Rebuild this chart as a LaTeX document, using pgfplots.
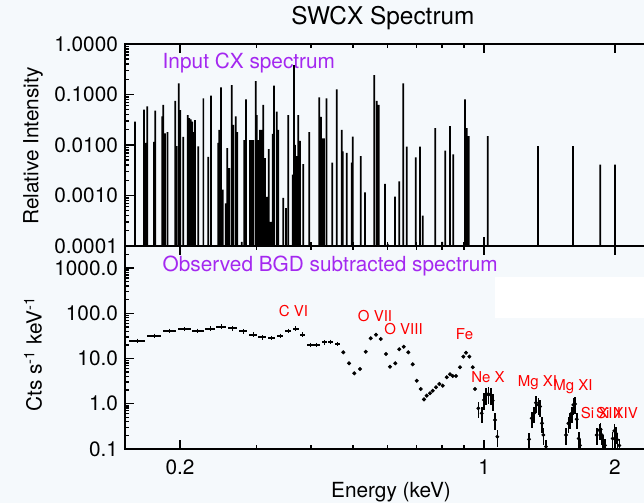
\documentclass[border=0pt]{standalone}
\usepackage{fontspec}
\setmainfont{TeX Gyre Heros}
\usepackage{pgfplots}
\usepackage{pgfplotstable}
\pgfplotsset{compat=1.18}
\definecolor{bgc}{RGB}{245,249,252}
\definecolor{idlpurple}{RGB}{164,40,240}

% input CX line list: energy (keV), relative intensity
\pgfplotstableread{
E v
0.1576 0.029
0.1653 0.050
0.1668 0.011
0.1682 0.058
0.1743 0.0115
0.1755 0.048
0.1821 0.037
0.1831 0.062
0.1847 0.017
0.1872 0.018
0.1951 0.075
0.1963 0.0095
0.1987 0.166
0.2003 0.049
0.2034 0.0145
0.2083 0.039
0.2101 0.034
0.2117 0.032
0.2135 0.029
0.2148 0.018
0.2165 0.031
0.2203 0.0094
0.2263 0.084
0.2323 0.0058
0.2357 0.095
0.2449 0.011
0.2462 0.020
0.2485 0.138
0.2507 0.0013
0.2547 0.0007
0.2569 0.0087
0.2596 0.0035
0.2630 0.154
0.2652 0.025
0.2686 0.037
0.2709 0.018
0.2773 0.00012
0.2811 0.0125
0.2836 0.080
0.2897 0.0125
0.2923 0.0125
0.2948 0.0125
0.2986 0.185
0.3002 0.039
0.3027 0.0125
0.3055 0.020
0.3071 0.020
0.3092 0.020
0.3108 0.062
0.3136 0.0055
0.3165 0.00094
0.3199 0.0083
0.3233 0.0003
0.3267 0.0166
0.3290 0.150
0.3337 0.046
0.3365 0.020
0.3456 0.0009
0.3505 0.00056
0.3548 0.039
0.3632 0.0026
0.3657 0.38
0.3676 0.010
0.3710 0.006
0.3741 0.039
0.3775 0.0120
0.3842 0.0042
0.3966 0.018
0.3995 0.00011
0.4181 0.088
0.4219 0.036
0.4248 0.0135
0.4286 0.0135
0.4343 0.084
0.4479 0.0045
0.4584 0.127
0.4707 0.020
0.4732 0.0075
0.4833 0.0070
0.4963 0.0045
0.4989 0.0146
0.5205 0.006
0.5325 0.00115
0.5594 0.243
0.5665 0.075
0.5726 0.062
0.5920 0.0017
0.6005 0.00011
0.6242 0.00095
0.6385 0.0019
0.6522 0.166
0.6640 0.0093
0.6964 0.0057
0.7125 0.0093
0.7227 0.0004
0.7726 0.0215
0.8017 0.00012
0.8146 0.0077
0.8351 0.0237
0.8498 0.0065
0.9041 0.080
0.9123 0.0215
0.9220 0.015
0.9998 0.00012
1.0196 0.015
1.3306 0.0095
1.6014 0.0095
1.8504 0.0041
2.0000 0.0041
}\cxlines

% low energy bins: centre, rate, half width
\pgfplotstableread{
E y ex
0.15945 24.7 0.0070
0.1746 31.9 0.0064
0.1893 41.1 0.0067
0.2048 44.2 0.0067
0.21995 41.1 0.0066
0.23455 45.6 0.0065
0.24905 50.5 0.0065
0.26415 46.4 0.0067
0.27925 39.9 0.0064
0.29445 33.6 0.0068
0.30915 29.4 0.0068
0.32505 28.4 0.0063
0.33965 31.9 0.0055
0.3543 41.1 0.0064
0.36895 45.6 0.0060
0.38255 33.6 0.0046
0.39925 19.9 0.0065
0.41295 19.9 0.0065
0.42935 22.8 0.0060
0.44265 23.3 0.0060
0.4604 20.7 0.0056
}\bins

% resolved points, O and Fe region
\pgfplotstableread{
E y
0.4747 13.7
0.4893 7.83
0.5032 4.71
0.5186 5.86
0.5345 14.1
0.5488 27.9
0.5644 33.6
0.5787 27.0
0.5951 12.6
0.6078 6.59
0.6251 7.83
0.6385 16.0
0.6535 18.2
0.6697 13.7
0.6854 7.45
0.7001 3.23
0.7151 2.12
0.7277 1.25
0.7382 1.51
0.7512 1.70
0.7620 1.94
0.7754 2.31
0.7891 2.74
0.8034 2.51
0.8206 3.85
0.8351 4.48
0.8471 4.10
0.8620 4.10
0.8804 6.39
0.8960 11.0
0.9089 13.4
0.9249 11.0
0.9417 6.4
0.9532 2.12
}\ptsA

% resolved points, Ne Mg Si region
\pgfplotstableread{
E y
0.9700 0.795
0.9876 0.615
0.9998 1.21
1.0103 1.56
1.0227 1.64
1.0358 1.56
1.0468 1.17
1.0597 0.438
1.0727 0.187
1.2687 0.164
1.2870 0.477
1.3026 0.615
1.3165 1.05
1.3327 0.95
1.3447 0.87
1.3590 0.37
1.3684 0.204
1.3880 0.113
1.5431 0.204
1.5620 0.37
1.5761 0.455
1.5903 0.615
1.6039 0.95
1.6184 0.99
1.6331 0.455
1.6505 0.17
1.6617 0.12
1.8153 0.204
1.8404 0.26
1.8541 0.27
1.8640 0.204
1.8799 0.145
1.8969 0.12
1.9758 0.17
1.9926 0.25
2.0107 0.22
2.0246 0.16
2.0462 0.12
}\ptsB

\begin{document}
\begin{tikzpicture}
\fill[bgc] (0,0) rectangle (322pt,251.5pt);
\fill[white] (247.5pt,92.5pt) rectangle (322pt,113.2pt);

% top panel
\begin{axis}[
  scale only axis, width=269.8pt, height=101pt,
  at={(62.5pt,128.5pt)}, anchor=south west,
  xmode=log, ymode=log, xmin=0.14947, xmax=2.6,
  ymin=1e-4, ymax=1,
  log origin=infty,
  axis line style={line width=0.9pt},
  tick align=inside,
  tick style={black, line width=0.7pt},
  major tick length=4.5pt, minor tick length=2.2pt,
  xtick={0.2,1,2}, minor xtick={0.3,0.4,0.5,0.6,0.7,0.8,0.9},
  xticklabels={},
  ytick={0.0001,0.001,0.01,0.1,1},
  yticklabels={0.0001,0.0010,0.0100,0.1000,1.0000},
  minor ytick={2e-4,3e-4,4e-4,5e-4,6e-4,7e-4,8e-4,9e-4,
    2e-3,3e-3,4e-3,5e-3,6e-3,7e-3,8e-3,9e-3,
    0.02,0.03,0.04,0.05,0.06,0.07,0.08,0.09,
    0.2,0.3,0.4,0.5,0.6,0.7,0.8,0.9},
  tick label style={font=\fontsize{10.4}{12}\selectfont},
  /pgf/number format/assume math mode=true,
]
\addplot[ybar, bar width=0.85pt, fill=black, draw=none] table[x=E, y=v] {\cxlines};
\node[anchor=base west, inner sep=0, text=idlpurple, font=\fontsize{10.4}{12}\selectfont]
  at (axis cs:0.1821,0.32) {Input CX spectrum};
\end{axis}

% bottom panel
\begin{axis}[
  scale only axis, width=269.8pt, height=101.5pt,
  at={(62.5pt,27pt)}, anchor=south west,
  xmode=log, ymode=log, xmin=0.14947, xmax=2.6,
  ymin=0.1, ymax=3063,
  axis line style={line width=0.9pt},
  tick align=inside,
  tick style={black, line width=0.7pt},
  major tick length=4.5pt, minor tick length=2.2pt,
  xtick={0.2,1,2}, minor xtick={0.3,0.4,0.5,0.6,0.7,0.8,0.9},
  xticklabels={0.2,1,2},
  xticklabel style={yshift=-2pt},
  ytick={0.1,1,10,100,1000},
  yticklabels={0.1,1.0,10.0,100.0,1000.0},
  minor ytick={0.2,0.3,0.4,0.5,0.6,0.7,0.8,0.9,
    2,3,4,5,6,7,8,9,20,30,40,50,60,70,80,90,
    200,300,400,500,600,700,800,900,2000,3000},
  tick label style={font=\fontsize{10.4}{12}\selectfont},
  /pgf/number format/assume math mode=true,
]
\addplot[black, only marks, mark=|, mark size=1.1pt, mark options={line width=0.5pt},
  error bars/.cd, x dir=both, x explicit,
  error mark=none, error bar style={line width=0.9pt}]
  table[x=E, y=y, x error=ex] {\bins};
\addplot[black, only marks, mark=*, mark size=0.8pt,
  error bars/.cd, y dir=both, y fixed relative=0.05, error mark=none]
  table[x=E, y=y] {\ptsA};
\addplot[black, only marks, mark=*, mark size=0.75pt,
  error bars/.cd, y dir=both, y fixed relative=0.4, error mark=none,
  error bar style={line width=0.8pt}]
  table[x=E, y=y] {\ptsB};
\node[anchor=base west, inner sep=0, text=idlpurple, font=\fontsize{10.4}{12}\selectfont]
  at (axis cs:0.1821,829) {Observed BGD subtracted spectrum};
\node[text=red, font=\fontsize{7.5}{9}\selectfont, inner sep=0] at (axis cs:0.3647,112) {C VI};
\node[text=red, font=\fontsize{7.5}{9}\selectfont, inner sep=0] at (axis cs:0.5614,86.9) {O VII};
\node[text=red, font=\fontsize{7.5}{9}\selectfont, inner sep=0] at (axis cs:0.6529,44.9) {O VIII};
\node[text=red, font=\fontsize{7.5}{9}\selectfont, inner sep=0] at (axis cs:0.9017,34.8) {Fe};
\node[text=red, font=\fontsize{7.5}{9}\selectfont, inner sep=0] at (axis cs:1.0212,3.90) {Ne X};
\node[text=red, font=\fontsize{7.5}{9}\selectfont, inner sep=0] at (axis cs:1.327,2.87) {Mg XI};
\node[text=red, font=\fontsize{7.5}{9}\selectfont, inner sep=0] at (axis cs:1.601,2.34) {Mg XI};
\node[text=red, font=\fontsize{7.5}{9}\selectfont, inner sep=0] at (axis cs:1.857,0.624) {Si XIII};
\node[text=red, font=\fontsize{7.5}{9}\selectfont, inner sep=0] at (axis cs:2.021,0.624) {Si XIV};
\end{axis}

\node[anchor=base, font=\fontsize{12.2}{14}\selectfont] at (191.5pt,239pt) {SWCX Spectrum};
\node[rotate=90, font=\fontsize{10.4}{12}\selectfont] at (16.5pt,178.5pt) {Relative Intensity};
\node[rotate=90, font=\fontsize{10.4}{12}\selectfont] at (16.5pt,74.5pt) {Cts s\textsuperscript{-1} keV\textsuperscript{-1}};
\node[anchor=base, font=\fontsize{10.4}{12}\selectfont] at (195.5pt,2.5pt) {Energy (keV)};

\pgfresetboundingbox
\useasboundingbox (0,0) rectangle (322pt,251.5pt);
\end{tikzpicture}
\end{document}
